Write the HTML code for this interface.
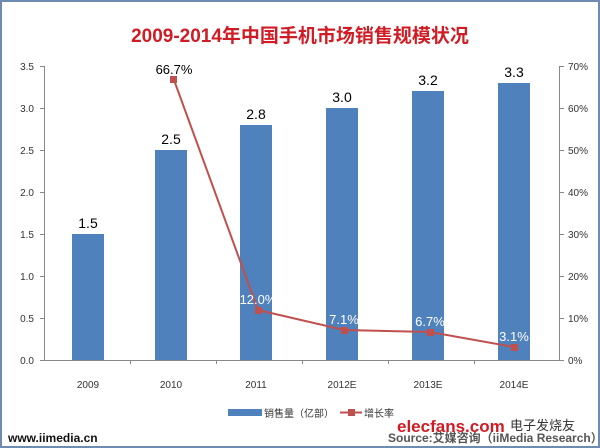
<!DOCTYPE html>
<html><head><meta charset="utf-8"><style>
body{margin:0;background:#fff}
svg{display:block}
text{font-family:"Liberation Sans","Noto Sans CJK SC",sans-serif}
</style></head><body>
<svg width="600" height="448" viewBox="0 0 600 448">
<rect x="1" y="1" width="598" height="446" fill="#fff" stroke="#6f8bb0" stroke-width="2"/>
<text x="300" y="42" text-anchor="middle" font-size="19" font-weight="bold" fill="#d01c24">2009-2014年中国手机市场销售规模状况</text>
<g stroke="#888" stroke-width="1">
<line x1="40" y1="360.5" x2="564" y2="360.5"/>
<line x1="44.5" y1="66" x2="44.5" y2="360"/><line x1="559.5" y1="66" x2="559.5" y2="360"/>
<path d="M40 66.5h4M40 108.5h4M40 150.5h4M40 192.5h4M40 234.5h4M40 276.5h4M40 318.5h4M560 66.5h4M560 108.5h4M560 150.5h4M560 192.5h4M560 234.5h4M560 276.5h4M560 318.5h4M130.5 360v4M216.5 360v4M302.5 360v4M388.5 360v4M474.5 360v4"/>
</g>
<g fill="#4f81bd">
<rect x="72" y="234" width="32" height="126"/>
<rect x="155" y="150" width="32" height="210"/>
<rect x="240" y="125" width="32" height="235"/>
<rect x="326" y="108" width="32" height="252"/>
<rect x="412" y="91" width="32" height="269"/>
<rect x="498" y="83" width="32" height="277"/>
</g>
<g font-size="14" fill="#000" text-anchor="middle">
<text x="88" y="228">1.5</text><text x="171" y="144">2.5</text><text x="256" y="119">2.8</text>
<text x="342" y="102">3.0</text><text x="428" y="85">3.2</text><text x="514" y="77">3.3</text>
</g>
<polyline points="174,80 258,310 344,330 430,332 514,347" fill="none" stroke="#c0504d" stroke-width="2"/>
<g fill="#c0504d"><rect x="170" y="76" width="7" height="7"/><rect x="255" y="307" width="7" height="7"/>
<rect x="341" y="327" width="7" height="7"/><rect x="427" y="329" width="7" height="7"/><rect x="511" y="344" width="7" height="7"/></g>
<g font-size="13" text-anchor="middle">
<text x="174" y="74" fill="#000">66.7%</text>
<text x="258" y="304" fill="#fff">12.0%</text><text x="344" y="324" fill="#fff">7.1%</text>
<text x="430" y="326" fill="#fff">6.7%</text><text x="514" y="341" fill="#fff">3.1%</text>
</g>
<g font-size="10" fill="#333" text-anchor="end">
<text x="34" y="70">3.5</text><text x="34" y="112">3.0</text><text x="34" y="154">2.5</text><text x="34" y="196">2.0</text>
<text x="34" y="238">1.5</text><text x="34" y="280">1.0</text><text x="34" y="322">0.5</text><text x="34" y="364">0.0</text>
</g>
<g font-size="10" fill="#333">
<text x="568" y="70">70%</text><text x="568" y="112">60%</text><text x="568" y="154">50%</text><text x="568" y="196">40%</text>
<text x="568" y="238">30%</text><text x="568" y="280">20%</text><text x="568" y="322">10%</text><text x="568" y="364">0%</text>
</g>
<g font-size="10" fill="#333" text-anchor="middle">
<text x="88" y="388">2009</text><text x="171" y="388">2010</text><text x="256" y="388">2011</text>
<text x="342" y="388">2012E</text><text x="428" y="388">2013E</text><text x="514" y="388">2014E</text>
</g>
<rect x="228" y="409" width="34" height="7" fill="#4f81bd"/>
<text x="264" y="417" font-size="10" fill="#333">销售量（亿部）</text>
<line x1="340" y1="412.5" x2="362" y2="412.5" stroke="#c0504d" stroke-width="2"/>
<rect x="348" y="409" width="7" height="7" fill="#c0504d"/>
<text x="364" y="417" font-size="10" fill="#333">增长率</text>
<text x="8" y="442" font-size="12" font-weight="bold" fill="#111">www.iimedia.cn</text>
<text x="388" y="442" font-size="12" font-weight="bold" fill="#555">Source:艾媒咨询（iiMedia Research）</text>
<text x="397" y="432" font-size="17" font-weight="bold" fill="#d01c24">elecfans.com</text>
<text x="510" y="430" font-size="13" fill="#333">电子发烧友</text>
</svg>
</body></html>
